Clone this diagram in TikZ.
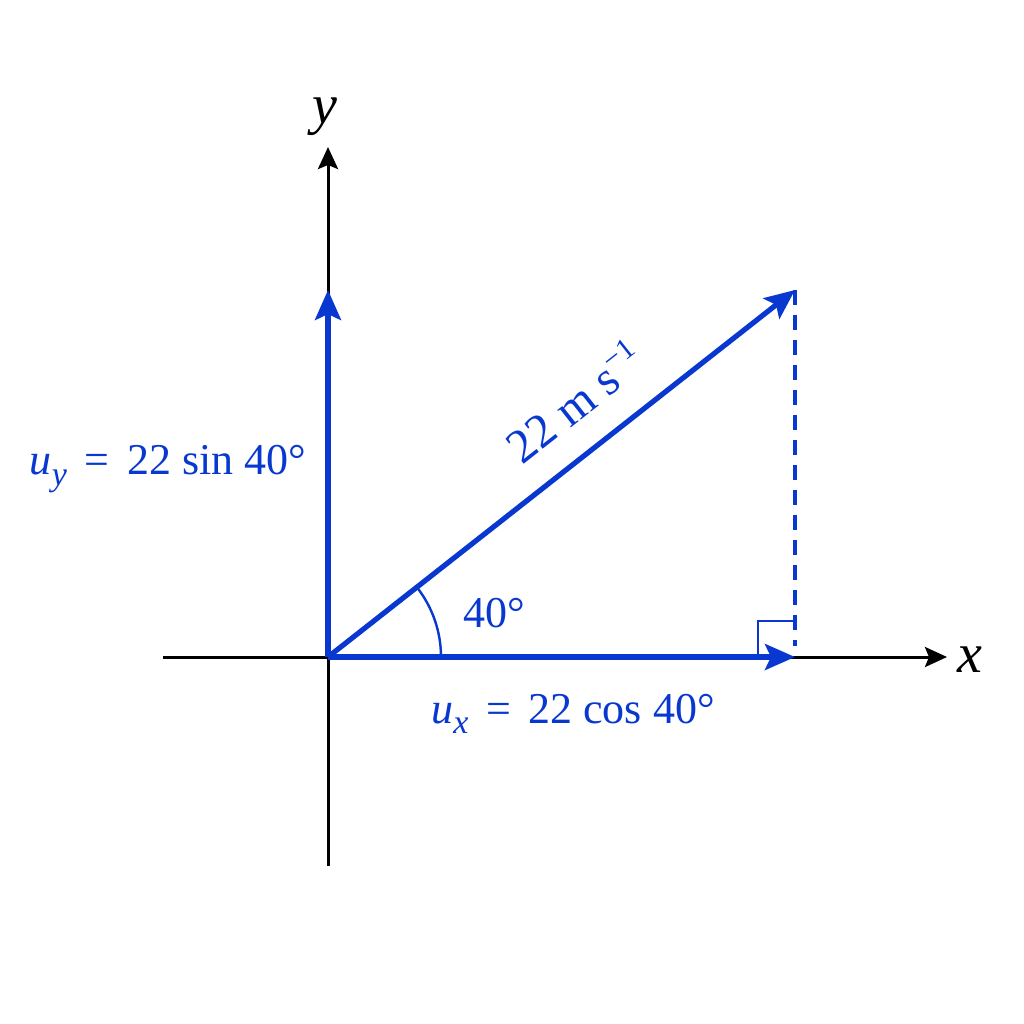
\documentclass[tikz,border=0pt]{standalone}
\usepackage{fontspec}
\setmainfont{Liberation Serif}
\usetikzlibrary{arrows.meta}
\definecolor{vblue}{RGB}{8,56,208}
\newcommand{\mysubs}[2]{{\itshape #1}\raisebox{-0.5ex}{\fontsize{17}{17}\selectfont\itshape #2}}
\tikzset{
  axisline/.style={draw=black, line width=1.5pt, -{Stealth[length=11pt,width=10pt,inset=2pt]}},
  vecline/.style={draw=vblue, line width=2.6pt, -{Stealth[length=15pt,width=13pt,inset=3pt]}},
  thinblue/.style={draw=vblue, line width=1.2pt},
  dashblue/.style={draw=vblue, line width=1.6pt, dash pattern=on 7.5pt off 5pt},
  lbl/.style={text=vblue, font=\fontsize{22}{26}\selectfont, inner sep=0pt},
  vlbl/.style={text=vblue, font=\fontsize{24}{28}\selectfont, inner sep=0pt},
  axlbl/.style={text=black, font=\fontsize{28}{32}\selectfont\itshape, inner sep=0pt}
}
\begin{document}
\begin{tikzpicture}[x=0.5pt,y=-0.5pt]
\fill[white] (0,0) rectangle (1024,1024);
\useasboundingbox (0,0) rectangle (1024,1024);
\coordinate (O) at (328,657);
\coordinate (Xl) at (163,657);
\coordinate (Xr) at (947,657);
\coordinate (Yb) at (328,866);
\coordinate (Yt) at (328,147);
\coordinate (P) at (795,290);
\coordinate (Px) at (795,657);
\coordinate (Py) at (328,290);
\coordinate (Pd) at (795,646);
\coordinate (Ra) at (758,657);
\coordinate (Rb) at (758,621);
\coordinate (Rc) at (795,621);
\coordinate (A0) at (441,657);
% axes
\draw[axisline] (Xl) -- (Xr);
\draw[axisline] (Yb) -- (Yt);
% dashed projection and right angle
\draw[dashblue] (P) -- (Pd);
\draw[thinblue] (Ra) -- (Rb) -- (Rc);
% angle arc
\draw[thinblue] (A0) arc[start angle=0, end angle=-38.2, radius=113];
% vectors
\draw[vecline] (O) -- (Px);
\draw[vecline] (O) -- (Py);
\draw[vecline] (O) -- (P);
% labels
\node[axlbl] (ylab) at (325,117) {y};
\node[axlbl] (xlab) at (970,660) {x};
\node[lbl] (uxlab) at (573,714) {\mysubs{u}{x}\hspace{0.4em}=\hspace{0.4em}22 cos 40°};
\node[lbl] (uylab) at (168,469) {\mysubs{u}{y}\hspace{0.4em}=\hspace{0.4em}22 sin 40°};
\node[lbl] (anglab) at (494,613) {40°};
\node[vlbl, rotate=38.2] (vlab) at (574,401) {22 m s\raisebox{0.85ex}{\fontsize{15}{15}\selectfont −1}};
\end{tikzpicture}
\end{document}
